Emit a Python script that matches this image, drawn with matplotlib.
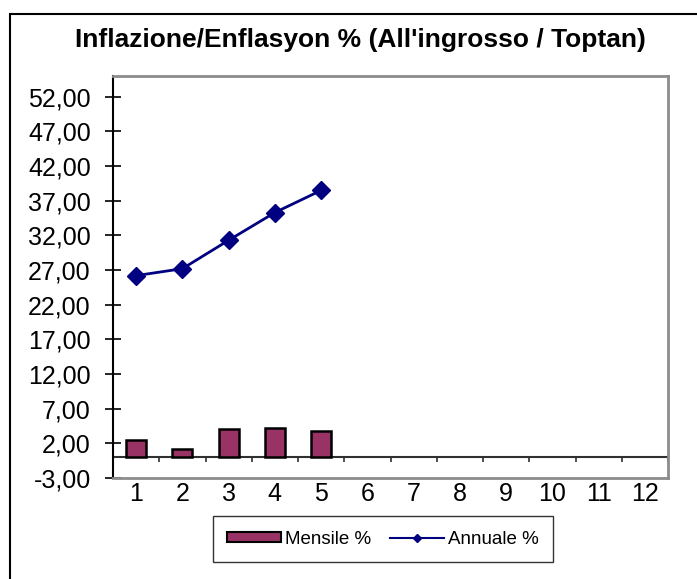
import numpy as np
import matplotlib.pyplot as plt
from matplotlib.patches import Rectangle, Patch
from matplotlib.lines import Line2D
from matplotlib.ticker import FuncFormatter

# data
months = list(range(1, 13))
mensile = [2.5, 1.2, 4.0, 4.2, 3.8]
annuale = [26.2, 27.2, 31.3, 35.3, 38.5]
yticks = np.arange(-3, 53, 5)

title = "Inflazione/Enflasyon % (All'ingrosso / Toptan)"
bar_color = '#993366'
line_color = '#000080'

plt.rcParams['font.family'] = ['Liberation Sans', 'DejaVu Sans']

W, H = 697, 579
fig = plt.figure(figsize=(W/100, H/100), dpi=100)

# outer frame of the chart
fig.patches.append(Rectangle((10/W, -0.05), 1.0, 1 - 14/H + 0.05, transform=fig.transFigure,
                             fill=False, edgecolor='black', lw=1.5))

ax = fig.add_axes([113/W, 1 - 478/H, (668 - 113)/W, (478 - 76)/H])

x = np.arange(1, len(mensile) + 1)
ax.bar(x, mensile, width=0.43, color=bar_color, edgecolor='black', linewidth=1.8, zorder=3)
ax.plot(np.arange(1, len(annuale) + 1), annuale, color=line_color, lw=2,
        marker='D', ms=9, zorder=4)

ax.set_xlim(0.5, 12.5)
ax.set_ylim(-3, 55)
ax.set_yticks(yticks)
ax.yaxis.set_major_formatter(FuncFormatter(lambda v, p: f'{v:.2f}'.replace('.', ',')))
ax.set_xticks(months)
ax.tick_params(axis='x', length=0, labelsize=18, pad=3)
ax.tick_params(axis='y', direction='inout', length=12, width=1.2, labelsize=18, pad=10)

for s in ['top', 'right', 'bottom']:
    ax.spines[s].set_color('#8c8c8c')
    ax.spines[s].set_linewidth(2)
ax.spines['left'].set_color('black')
ax.spines['left'].set_linewidth(1.5)

# category axis at zero with ticks between categories
ax.axhline(0, color='#303030', lw=1.5, zorder=2)
ax.vlines(np.arange(1.5, 12.6, 1), -0.75, 0, color='#303030', lw=1.2, zorder=2)

fig.text(360/W, 1 - 40/H, title, ha='center', va='center', fontsize=19, weight='bold')

handles = [Patch(facecolor=bar_color, edgecolor='black', lw=1.5),
           Line2D([], [], color=line_color, lw=1.5, marker='D', ms=4)]
fig.legend(handles, ['Mensile %', 'Annuale %'], loc='center',
           bbox_to_anchor=(383/W, 1 - 539/H), ncol=2, frameon=True, fancybox=False,
           edgecolor='black', fontsize=13.5, handlelength=2.9, handleheight=0.5,
           columnspacing=1.0, handletextpad=0.2, borderpad=0.75, borderaxespad=0)

fig.savefig('out.png', dpi=100)
